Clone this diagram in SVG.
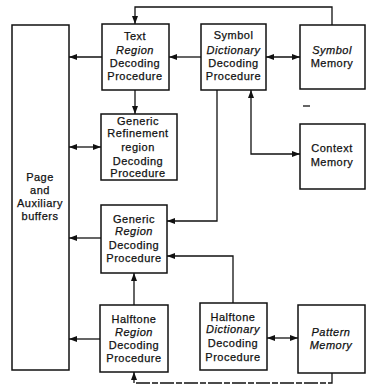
<svg xmlns="http://www.w3.org/2000/svg" width="367" height="387" viewBox="0 0 367 387">
<defs>
<marker id="ah" viewBox="0 0 8 6" refX="8" refY="3" markerWidth="8" markerHeight="6" markerUnits="userSpaceOnUse" orient="auto-start-reverse">
<path d="M0,0 L8,3 L0,6 Z" fill="#111"/>
</marker>
<style>
.box{fill:#fff;stroke:#111;stroke-width:1.5}
.t{font-family:"Liberation Sans",Arial,sans-serif;font-size:11px;letter-spacing:0.5px;fill:#111;text-anchor:middle;stroke:#111;stroke-width:0.25}
.i{font-style:italic}
.c{fill:none;stroke:#111;stroke-width:1.3}
.a{marker-end:url(#ah)}
.b{marker-start:url(#ah);marker-end:url(#ah)}
</style>
</defs>
<rect width="367" height="387" fill="#fff"/>
<g id="connectors">
<path class="c a" d="M332,25 V7 H135 V24"/>
<path class="c a" d="M201,57 H169"/>
<path class="c a" d="M102,57 H69"/>
<path class="c b" d="M266,57 H300"/>
<path class="c a" d="M135,90 V114"/>
<path class="c b" d="M69,147 H101"/>
<path class="c b" d="M251,90 V154 H300"/>
<path class="c a" d="M217,90 V221 H167"/>
<path class="c a" d="M101,238 H69"/>
<path class="c a" d="M233,303 V256 H167"/>
<path class="c a" d="M134,305 V273"/>
<path class="c a" d="M100,339 H69"/>
<path class="c b" d="M267,338 H298"/>
<path class="c a" d="M332,373 V383 H134 V372" stroke-dasharray="14 2 6 2"/>
<path class="c" d="M303,106 H310"/>
</g>
<g id="page">
<rect class="box" x="12" y="25" width="57" height="345"/>
<text class="t" x="40" y="181">Page</text>
<text class="t" x="40" y="194">and</text>
<text class="t" x="40" y="207">Auxiliary</text>
<text class="t" x="40" y="220">buffers</text>
</g>
<g id="text-region">
<rect class="box" x="102" y="24" width="67" height="66"/>
<text class="t" x="135" y="40">Text</text>
<text class="t i" x="135" y="54">Region</text>
<text class="t" x="135" y="67">Decoding</text>
<text class="t" x="135" y="80">Procedure</text>
</g>
<g id="symbol-dictionary">
<rect class="box" x="201" y="24" width="65" height="66"/>
<text class="t" x="233.5" y="39">Symbol</text>
<text class="t i" x="233.5" y="54">Dictionary</text>
<text class="t" x="233.5" y="67">Decoding</text>
<text class="t" x="233.5" y="80">Procedure</text>
</g>
<g id="symbol-memory">
<rect class="box" x="300" y="25" width="65" height="64"/>
<text class="t i" x="332" y="54">Symbol</text>
<text class="t" x="332" y="67">Memory</text>
</g>
<g id="context-memory">
<rect class="box" x="300" y="124" width="65" height="65"/>
<text class="t" x="332" y="152">Context</text>
<text class="t" x="332" y="166">Memory</text>
</g>
<g id="generic-refinement">
<rect class="box" x="101" y="114" width="76" height="66"/>
<text class="t" x="138" y="125">Generic</text>
<text class="t" x="138" y="137">Refinement</text>
<text class="t" x="138" y="151">region</text>
<text class="t" x="138" y="165">Decoding</text>
<text class="t" x="138" y="177">Procedure</text>
</g>
<g id="generic-region">
<rect class="box" x="101" y="205" width="66" height="68"/>
<text class="t" x="134" y="223">Generic</text>
<text class="t i" x="134" y="235">Region</text>
<text class="t" x="134" y="249">Decoding</text>
<text class="t" x="134" y="262">Procedure</text>
</g>
<g id="halftone-region">
<rect class="box" x="100" y="305" width="68" height="67"/>
<text class="t" x="134" y="323">Halftone</text>
<text class="t i" x="134" y="336">Region</text>
<text class="t" x="134" y="349">Decoding</text>
<text class="t" x="134" y="362">Procedure</text>
</g>
<g id="halftone-dictionary">
<rect class="box" x="200" y="303" width="67" height="67"/>
<text class="t" x="233" y="321">Halftone</text>
<text class="t i" x="233" y="333">Dictionary</text>
<text class="t" x="233" y="347">Decoding</text>
<text class="t" x="233" y="361">Procedure</text>
</g>
<g id="pattern-memory">
<rect class="box" x="298" y="305" width="67" height="68"/>
<text class="t i" x="331" y="336">Pattern</text>
<text class="t i" x="331" y="349">Memory</text>
</g>
</svg>
